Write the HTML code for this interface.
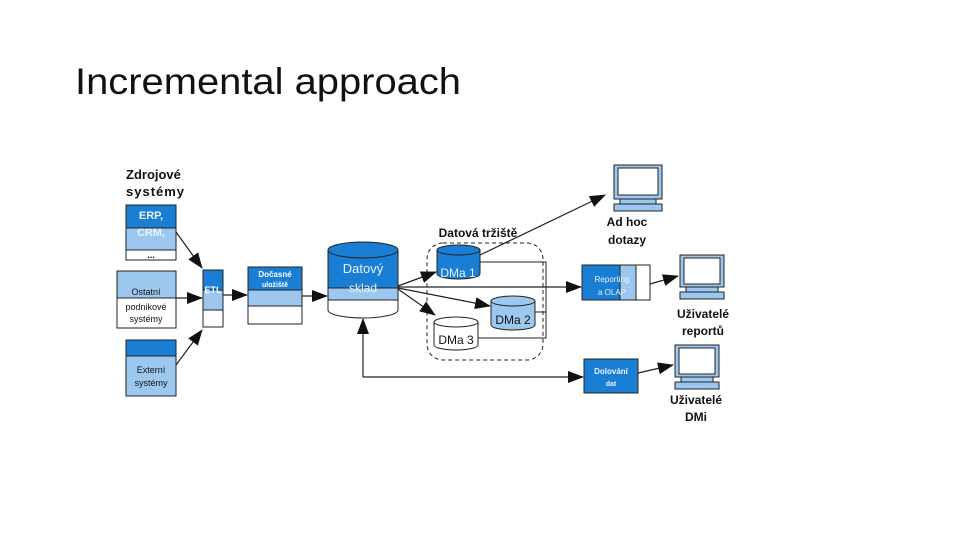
<!DOCTYPE html>
<html><head><meta charset="utf-8"><style>
html,body{margin:0;padding:0;background:#fff;}
svg{display:block;font-family:"Liberation Sans",sans-serif;}
</style></head><body>
<svg width="960" height="540" viewBox="0 0 960 540" xmlns="http://www.w3.org/2000/svg">
<defs><marker id="a" markerWidth="10" markerHeight="8" refX="9" refY="4" orient="auto" markerUnits="userSpaceOnUse"><path d="M0,0 L10,4 L0,8 z" fill="#111"/></marker>
<marker id="b" markerWidth="16" markerHeight="12" refX="15" refY="6" orient="auto" markerUnits="userSpaceOnUse"><path d="M0,0 L16,6 L0,12 z" fill="#111"/></marker></defs>
<text x="75" y="94" font-size="37" fill="#111" textLength="386" lengthAdjust="spacingAndGlyphs">Incremental approach</text>

<g font-weight="bold" fill="#111">
<text x="126" y="179" font-size="13">Zdrojové</text>
<text x="126" y="196" font-size="13" letter-spacing="1">systémy</text>
</g>
<g stroke="#222" stroke-width="1">
<rect x="126" y="205" width="50" height="23" fill="#1a7fd4"/>
<rect x="126" y="228" width="50" height="22" fill="#9cc8f0"/>
<rect x="126" y="250" width="50" height="10" fill="#fff"/>
<rect x="117" y="271" width="59" height="27" fill="#9cc8f0"/>
<rect x="117" y="298" width="59" height="30" fill="#fff"/>
<rect x="126" y="340" width="50" height="16" fill="#1a7fd4"/>
<rect x="126" y="356" width="50" height="40" fill="#9cc8f0"/>
<rect x="203" y="270" width="20" height="20" fill="#1a7fd4"/>
<rect x="203" y="290" width="20" height="20" fill="#9cc8f0"/>
<rect x="203" y="310" width="20" height="17" fill="#fff"/>
<rect x="248" y="267" width="54" height="23" fill="#1a7fd4"/>
<rect x="248" y="290" width="54" height="16" fill="#9cc8f0"/>
<rect x="248" y="306" width="54" height="18" fill="#fff"/>
<!-- datovy sklad -->
<path d="M328,250 V310 A35,8 0 0 0 398,310 V250" fill="#fff"/>
<path d="M328,250 V300 H398 V250" fill="#9cc8f0"/>
<path d="M328,250 V288 H398 V250" fill="#1a7fd4"/>
<ellipse cx="363" cy="250" rx="35" ry="8" fill="#1a7fd4"/>
<!-- DMa1 -->
<path d="M437,250 V274 A21.5,5 0 0 0 480,274 V250" fill="#1a7fd4"/>
<ellipse cx="458.5" cy="250" rx="21.5" ry="5" fill="#1a7fd4"/>
<path d="M491,301 V325 A22,5 0 0 0 535,325 V301" fill="#9cc8f0"/>
<ellipse cx="513" cy="301" rx="22" ry="5" fill="#9cc8f0"/>
<path d="M434,322 V345 A22,5 0 0 0 478,345 V322" fill="#fff"/>
<ellipse cx="456" cy="322" rx="22" ry="5" fill="#fff"/>
<rect x="582" y="265" width="38" height="35" fill="#1a7fd4"/>
<rect x="620" y="265" width="16" height="35" fill="#9cc8f0"/>
<rect x="636" y="265" width="14" height="35" fill="#fff"/>
<rect x="584" y="359" width="54" height="34" fill="#1a7fd4"/>
</g>
<rect x="427" y="243" width="116" height="117" rx="16" fill="none" stroke="#222" stroke-dasharray="4,3"/>
<g fill="none" stroke="#222" stroke-width="1">
<path d="M480,262 H546 V338 H478 M535,312 H546"/>
</g>
<!-- monitors -->
<g stroke="#222" fill="#fff">
<g transform="translate(614,165)"><rect x="0" y="0" width="48" height="34" fill="#9cc8f0"/><rect x="4" y="3" width="40" height="27" fill="#fff"/><rect x="6" y="34" width="36" height="5" fill="#9cc8f0"/><rect x="0" y="39" width="48" height="7" fill="#9cc8f0"/></g>
<g transform="translate(680,255)"><rect x="0" y="0" width="44" height="32" fill="#9cc8f0"/><rect x="4" y="3" width="36" height="26" fill="#fff"/><rect x="6" y="32" width="32" height="5" fill="#9cc8f0"/><rect x="0" y="37" width="44" height="7" fill="#9cc8f0"/></g>
<g transform="translate(675,345)"><rect x="0" y="0" width="44" height="32" fill="#9cc8f0"/><rect x="4" y="3" width="36" height="26" fill="#fff"/><rect x="6" y="32" width="32" height="5" fill="#9cc8f0"/><rect x="0" y="37" width="44" height="7" fill="#9cc8f0"/></g>
</g>
<!-- arrows -->
<g stroke="#222" stroke-width="1.2" fill="none">
<line x1="176" y1="232" x2="202" y2="268" marker-end="url(#b)"/>
<line x1="176" y1="298" x2="202" y2="298" marker-end="url(#b)"/>
<line x1="176" y1="365" x2="202" y2="330" marker-end="url(#b)"/>
<line x1="223" y1="295" x2="247" y2="295" marker-end="url(#b)"/>
<line x1="302" y1="296" x2="327" y2="296" marker-end="url(#b)"/>
<line x1="398" y1="286" x2="436" y2="272" marker-end="url(#b)"/>
<line x1="398" y1="287" x2="581" y2="287" marker-end="url(#b)"/>
<line x1="398" y1="288" x2="490" y2="306" marker-end="url(#b)"/>
<line x1="398" y1="289" x2="435" y2="315" marker-end="url(#b)"/>
<line x1="480" y1="255" x2="605" y2="195" marker-end="url(#b)"/>
<line x1="650" y1="284" x2="678" y2="276" marker-end="url(#b)"/>
<line x1="638" y1="373" x2="673" y2="365" marker-end="url(#b)"/>
<path d="M363,377 V319" marker-end="url(#b)"/>
<path d="M363,377 H583" marker-end="url(#b)"/>
</g>
<!-- labels -->
<g font-size="11" font-weight="bold">
<text x="151" y="219" fill="#e8f3ff" text-anchor="middle">ERP,</text>
<text x="151" y="236" fill="#e8f3ff" text-anchor="middle">CRM,</text>
<text x="151" y="258" fill="#111" text-anchor="middle" font-size="9">...</text>
<text x="213" y="293" fill="#fff" text-anchor="middle" font-size="9">ETL</text>
<text x="275" y="277" fill="#fff" text-anchor="middle" font-size="8">Dočasné</text>
<text x="275" y="287" fill="#fff" text-anchor="middle" font-size="7">uložiště</text>
<text x="363" y="273" fill="#e8f3ff" text-anchor="middle" font-size="13" font-weight="normal">Datový</text>
<text x="363" y="292" fill="#e8f3ff" text-anchor="middle" font-size="12" font-weight="normal">sklad</text>
<text x="458" y="277" fill="#e8f3ff" text-anchor="middle" font-size="12" font-weight="normal">DMa 1</text>
<text x="513" y="324" fill="#111" text-anchor="middle" font-size="12" font-weight="normal">DMa 2</text>
<text x="456" y="344" fill="#111" text-anchor="middle" font-size="12" font-weight="normal">DMa 3</text>
<text x="612" y="282" fill="#e8f3ff" text-anchor="middle" font-size="8" font-weight="normal">Reporting</text>
<text x="612" y="295" fill="#e8f3ff" text-anchor="middle" font-size="8" font-weight="normal">a OLAP</text>
<text x="611" y="374" fill="#e8f3ff" text-anchor="middle" font-size="8">Dolování</text>
<text x="611" y="386" fill="#e8f3ff" text-anchor="middle" font-size="7">dat</text>
</g>
<g font-size="9" fill="#111" text-anchor="middle">
<text x="146" y="295">Ostatní</text>
<text x="146" y="310">podnikové</text>
<text x="146" y="322">systémy</text>
<text x="151" y="373">Externí</text>
<text x="151" y="386">systémy</text>
</g>
<g font-size="12" font-weight="bold" fill="#111" text-anchor="middle">
<text x="478" y="237">Datová tržiště</text>
<text x="627" y="226">Ad hoc</text>
<text x="627" y="244">dotazy</text>
<text x="703" y="318">Uživatelé</text>
<text x="703" y="335">reportů</text>
<text x="696" y="404">Uživatelé</text>
<text x="696" y="421">DMi</text>
</g>
</svg>
</body></html>
